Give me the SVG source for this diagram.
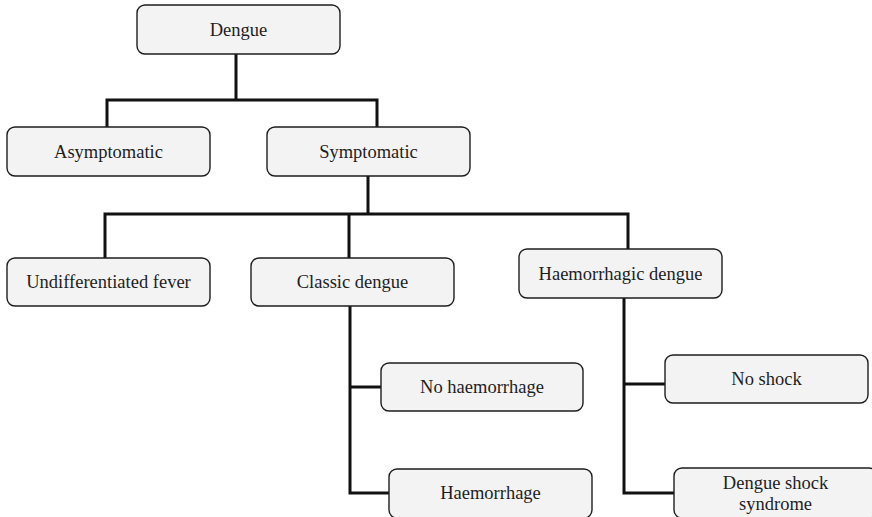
<svg xmlns="http://www.w3.org/2000/svg" width="872" height="517" viewBox="0 0 872 517">
<style>
.box{fill:#f3f3f3;stroke:#1e1e1e;stroke-width:1.4}
.lbl{font-family:'Liberation Serif','DejaVu Serif',serif;font-size:18.5px;fill:#1e1e1e;text-anchor:middle}
.conn{fill:none;stroke:#111;stroke-width:3;stroke-linejoin:miter}
</style>
<rect width="872" height="517" fill="#fff"/>
<g id="connectors">
<path class="conn" d="M236,54 V100 M107,127 V100 H377 V127"/>
<path class="conn" d="M368,176 V214 M105,258 V214 H628 V249 M349,214 V258"/>
<path class="conn" d="M350,306 V493 H389 M350,387 H381"/>
<path class="conn" d="M624,298 V493 H674 M624,384 H665"/>
</g>
<g id="dengue"><rect class="box" x="137" y="5" width="203" height="49" rx="8"/><text class="lbl" x="238.5" y="36" font-family="Liberation Serif">Dengue</text></g>
<g id="asymptomatic"><rect class="box" x="7" y="127" width="203" height="49" rx="8"/><text class="lbl" x="108.5" y="158">Asymptomatic</text></g>
<g id="symptomatic"><rect class="box" x="267" y="127" width="203" height="49" rx="8"/><text class="lbl" x="368.5" y="158">Symptomatic</text></g>
<g id="undifferentiated"><rect class="box" x="7" y="258" width="203" height="48" rx="8"/><text class="lbl" x="108.5" y="288">Undifferentiated fever</text></g>
<g id="classic"><rect class="box" x="251" y="258" width="203" height="48" rx="8"/><text class="lbl" x="352.5" y="288">Classic dengue</text></g>
<g id="haemorrhagic"><rect class="box" x="519" y="249" width="203" height="49" rx="8"/><text class="lbl" x="620.5" y="280">Haemorrhagic dengue</text></g>
<g id="nohaemorrhage"><rect class="box" x="381" y="363" width="202" height="48" rx="8"/><text class="lbl" x="482" y="393">No haemorrhage</text></g>
<g id="haemorrhage"><rect class="box" x="389" y="469" width="203" height="49" rx="8"/><text class="lbl" x="490.5" y="499">Haemorrhage</text></g>
<g id="noshock"><rect class="box" x="665" y="355" width="203" height="48" rx="8"/><text class="lbl" x="766.5" y="385">No shock</text></g>
<g id="dss"><rect class="box" x="674" y="468" width="203" height="50" rx="8"/><text class="lbl" x="775.5" y="489">Dengue shock</text><text class="lbl" x="775.5" y="510">syndrome</text></g>
</svg>
